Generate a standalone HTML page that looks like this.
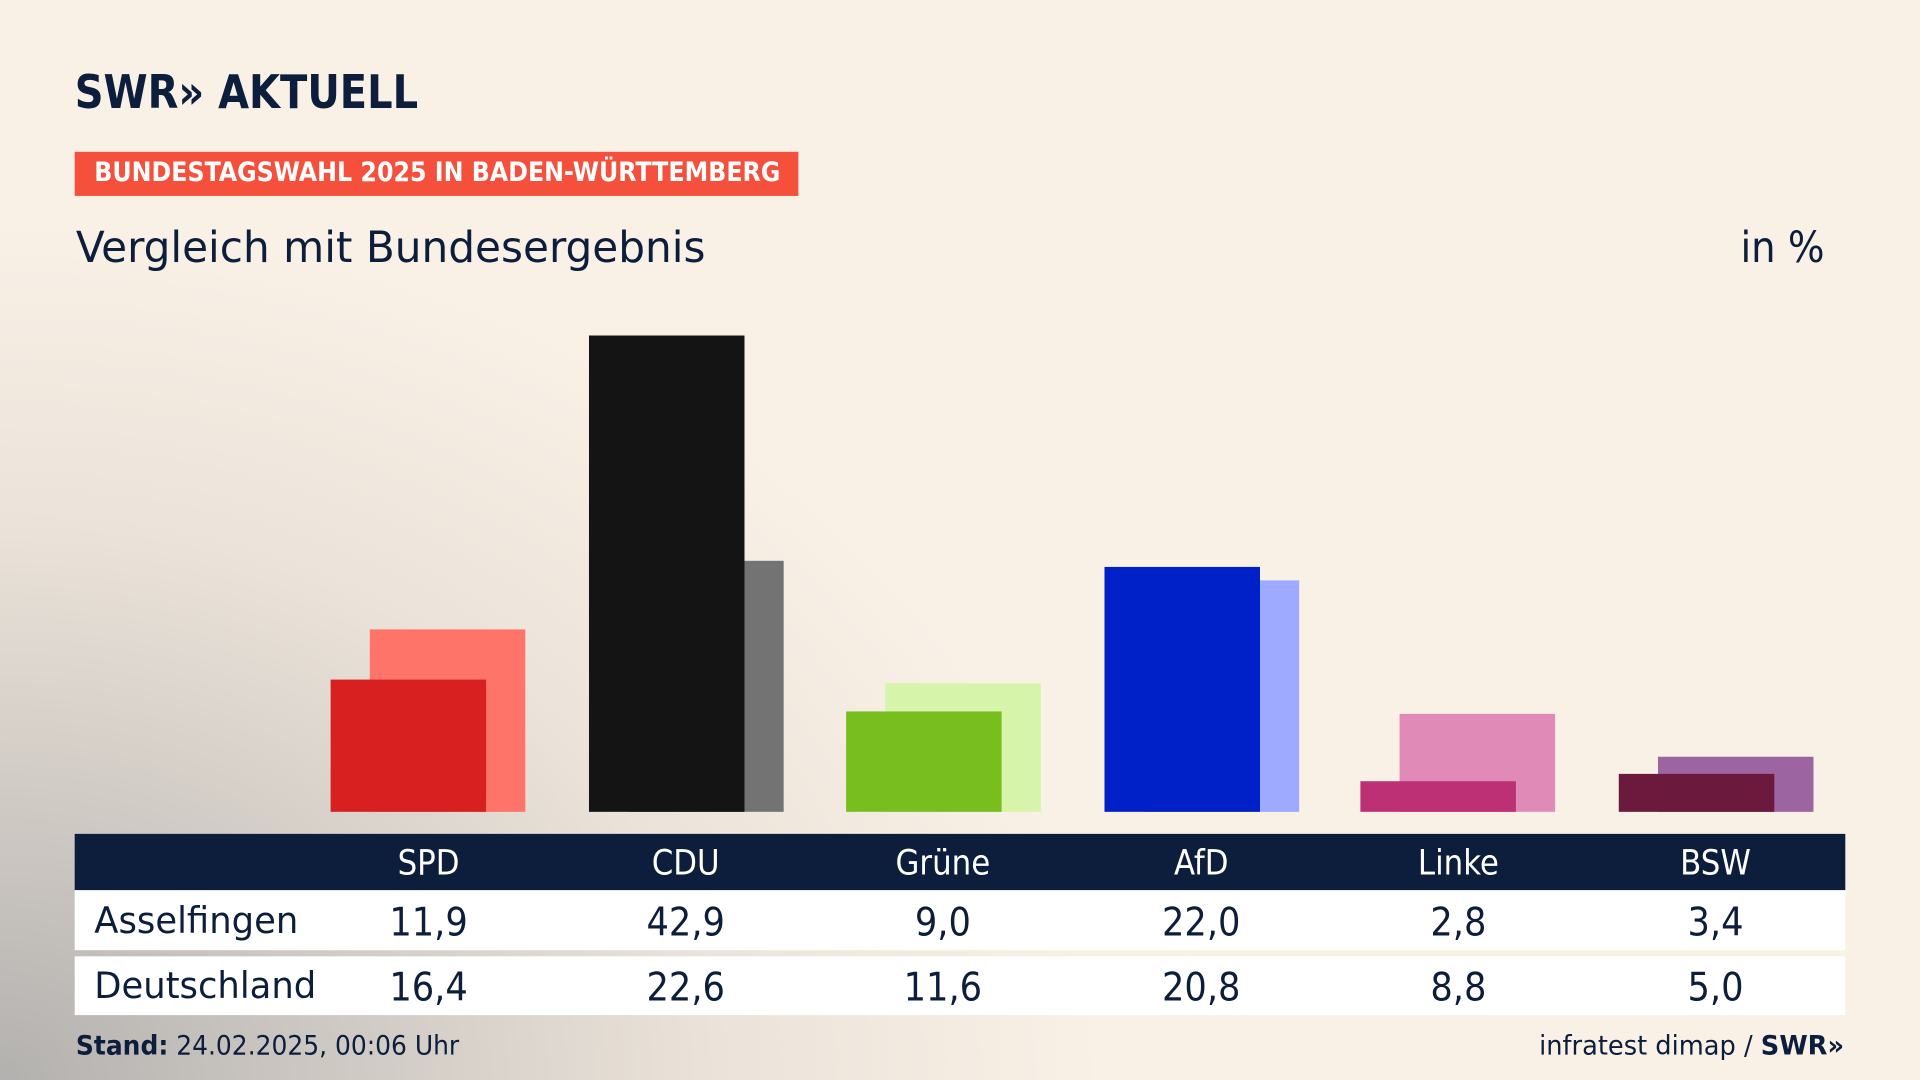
<!DOCTYPE html>
<html><head><meta charset="utf-8"><style>
html,body{margin:0;padding:0;width:1920px;height:1080px;overflow:hidden}
#s{position:absolute;left:0;top:0;width:1568px;height:882px;transform:scale(1.22449);transform-origin:0 0;
background:radial-gradient(ellipse 900px 700px at 0px 882px,#b3b1af 0%,#d2ccc6 35%,#ebe3d9 65%,rgba(248,240,229,0) 100%),#f9f1e6;
font-family:"DejaVu Sans Condensed","Liberation Sans Narrow","Liberation Sans",sans-serif;color:#0c1e3c}
.a{position:absolute}
.b{position:absolute;bottom:219px}
.t{position:absolute;font-size:28px;text-align:center;width:200px;margin-left:-100px}
</style></head><body><div id="s">
<div class="a" style="left:61px;top:53px;font-size:38px;font-weight:bold;transform:scaleX(0.955);transform-origin:0 0">SWR&raquo; AKTUELL</div>
<div class="a" style="left:61px;top:124px;width:591px;height:36px;background:#f5503c"></div>
<div class="a" style="left:77px;top:129px;font-size:22px;font-weight:bold;color:#fff;transform:scaleX(0.98);transform-origin:0 0;white-space:nowrap">BUNDESTAGSWAHL 2025 IN BADEN-WÜRTTEMBERG</div>
<div class="a" style="left:62px;top:183px;font-size:35px;transform:scaleX(1.094);transform-origin:0 0;white-space:nowrap">Vergleich mit Bundesergebnis</div>
<div class="a" style="right:78px;top:183px;font-size:35px">in %</div>

<div class="b" style="left:302px;width:127px;height:149px;background:#ff7468"></div>
<div class="b" style="left:270px;width:127px;height:108px;background:#d7201f"></div>
<div class="b" style="left:513px;width:127px;height:205px;background:#747373"></div>
<div class="b" style="left:481px;width:127px;height:389px;background:#141414"></div>
<div class="b" style="left:723px;width:127px;height:105px;background:#d7f5aa"></div>
<div class="b" style="left:691px;width:127px;height:82px;background:#78be1e"></div>
<div class="b" style="left:934px;width:127px;height:189px;background:#9eaaff"></div>
<div class="b" style="left:902px;width:127px;height:200px;background:#0020c8"></div>
<div class="b" style="left:1143px;width:127px;height:80px;background:#e08ab8"></div>
<div class="b" style="left:1111px;width:127px;height:25px;background:#be3075"></div>
<div class="b" style="left:1354px;width:127px;height:45px;background:#9c64a0"></div>
<div class="b" style="left:1322px;width:127px;height:31px;background:#6b1a3e"></div>

<div class="a" style="left:61px;top:681px;width:1446px;height:46px;background:#0c1e3c"></div>
<div class="a" style="left:61px;top:727px;width:1446px;height:49px;background:#fff"></div>
<div class="a" style="left:61px;top:781px;width:1446px;height:48px;background:#fff"></div>

<div style="position:absolute;left:0;top:688px;color:#fff">
<div class="t" style="left:350px">SPD</div><div class="t" style="left:560px">CDU</div><div class="t" style="left:770px">Grüne</div><div class="t" style="left:981px">AfD</div><div class="t" style="left:1191px">Linke</div><div class="t" style="left:1401px">BSW</div></div>
<div style="position:absolute;left:0;top:734px;font-size:30px">
<div class="a" style="left:77px;top:1px;font-size:30px;transform:scaleX(1.07);transform-origin:0 0">Asselfingen</div>
<div class="t" style="left:350px;font-size:32px">11,9</div><div class="t" style="left:560px;font-size:32px">42,9</div><div class="t" style="left:770px;font-size:32px">9,0</div><div class="t" style="left:981px;font-size:32px">22,0</div><div class="t" style="left:1191px;font-size:32px">2,8</div><div class="t" style="left:1401px;font-size:32px">3,4</div></div>
<div style="position:absolute;left:0;top:787px">
<div class="a" style="left:77px;top:1px;font-size:30px;transform:scaleX(1.07);transform-origin:0 0">Deutschland</div>
<div class="t" style="left:350px;font-size:32px">16,4</div><div class="t" style="left:560px;font-size:32px">22,6</div><div class="t" style="left:770px;font-size:32px">11,6</div><div class="t" style="left:981px;font-size:32px">20,8</div><div class="t" style="left:1191px;font-size:32px">8,8</div><div class="t" style="left:1401px;font-size:32px">5,0</div></div>

<div class="a" style="left:62px;top:842px;font-size:22px;transform:scaleX(1.03);transform-origin:0 0"><b>Stand:</b> 24.02.2025, 00:06 Uhr</div>
<div class="a" style="right:62px;top:842px;font-size:22px;transform:scaleX(1.06);transform-origin:100% 0">infratest dimap / <b>SWR&raquo;</b></div>
</div></body></html>
